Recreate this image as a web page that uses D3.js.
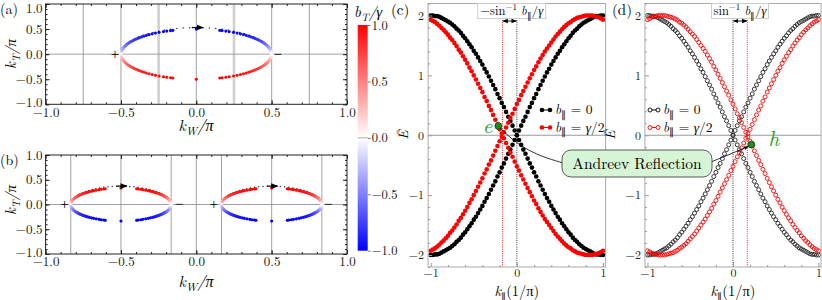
<!DOCTYPE html>
<html><head><meta charset="utf-8">
<script src="https://cdn.jsdelivr.net/npm/d3@7"></script>
<style>body{margin:0;background:#fff} svg{display:block}</style>
</head><body><svg id="chart" width="822" height="300"></svg>
<script>
// ---------------- DATA ----------------
// panel (a): colored points on the two arcs (k_W, k_T, b_T/gamma)
const aKW = [-0.500,-0.500,-0.499,-0.498,-0.496,-0.494,-0.492,-0.489,-0.485,-0.481,-0.477,-0.472,-0.466,-0.460,-0.454,-0.447,-0.439,-0.430,-0.421,-0.411,-0.400,-0.388,-0.376,-0.362,-0.347,-0.331,-0.313,-0.293,-0.271,-0.247,-0.218,-0.196,-0.171,-0.156,0,0.156,0.171,0.196,0.218,0.247,0.271,0.293,0.313,0.331,0.347,0.362,0.376,0.388,0.400,0.411,0.421,0.430,0.439,0.447,0.454,0.460,0.466,0.472,0.477,0.481,0.485,0.489,0.492,0.494,0.496,0.498,0.499,0.500,0.500];
const aUpperKT = [0,0.015,0.03,0.045,0.06,0.075,0.09,0.105,0.12,0.135,0.15,0.165,0.18,0.195,0.21,0.225,0.24,0.255,0.27,0.285,0.30,0.315,0.33,0.345,0.36,0.375,0.39,0.405,0.42,0.435,0.45,0.46,0.47,0.475,0.5,0.475,0.47,0.46,0.45,0.435,0.42,0.405,0.39,0.375,0.36,0.345,0.33,0.315,0.30,0.285,0.27,0.255,0.24,0.225,0.21,0.195,0.18,0.165,0.15,0.135,0.12,0.105,0.09,0.075,0.06,0.045,0.03,0.015,0];
const aLowerKT = [0,-0.015,-0.03,-0.045,-0.06,-0.075,-0.09,-0.105,-0.12,-0.135,-0.15,-0.165,-0.18,-0.195,-0.21,-0.225,-0.24,-0.255,-0.27,-0.285,-0.30,-0.315,-0.33,-0.345,-0.36,-0.375,-0.39,-0.405,-0.42,-0.435,-0.45,-0.46,-0.47,-0.475,-0.5,-0.475,-0.47,-0.46,-0.45,-0.435,-0.42,-0.405,-0.39,-0.375,-0.36,-0.345,-0.33,-0.315,-0.30,-0.285,-0.27,-0.255,-0.24,-0.225,-0.21,-0.195,-0.18,-0.165,-0.15,-0.135,-0.12,-0.105,-0.09,-0.075,-0.06,-0.045,-0.03,-0.015,0];
const aUpperBT = [0,-0.047,-0.094,-0.141,-0.187,-0.233,-0.279,-0.324,-0.368,-0.412,-0.454,-0.495,-0.536,-0.575,-0.613,-0.649,-0.685,-0.718,-0.750,-0.780,-0.809,-0.836,-0.861,-0.884,-0.905,-0.924,-0.941,-0.956,-0.969,-0.979,-0.988,-0.992,-0.996,-0.997,-1,-0.997,-0.996,-0.992,-0.988,-0.979,-0.969,-0.956,-0.941,-0.924,-0.905,-0.884,-0.861,-0.836,-0.809,-0.780,-0.750,-0.718,-0.685,-0.649,-0.613,-0.575,-0.536,-0.495,-0.454,-0.412,-0.368,-0.324,-0.279,-0.233,-0.187,-0.141,-0.094,-0.047,0];
const aLowerBT = [0,0.047,0.094,0.141,0.187,0.233,0.279,0.324,0.368,0.412,0.454,0.495,0.536,0.575,0.613,0.649,0.685,0.718,0.750,0.780,0.809,0.836,0.861,0.884,0.905,0.924,0.941,0.956,0.969,0.979,0.988,0.992,0.996,0.997,1,0.997,0.996,0.992,0.988,0.979,0.969,0.956,0.941,0.924,0.905,0.884,0.861,0.836,0.809,0.780,0.750,0.718,0.685,0.649,0.613,0.575,0.536,0.495,0.454,0.412,0.368,0.324,0.279,0.233,0.187,0.141,0.094,0.047,0];
// panel (a): black trace along the upper arc
const aTraceKW = [-0.500,-0.498,-0.492,-0.483,-0.470,-0.453,-0.433,-0.410,-0.383,-0.354,-0.321,-0.287,-0.250,-0.211,-0.171,-0.129,-0.087,-0.044,0,0.044,0.087,0.129,0.171,0.211,0.250,0.287,0.321,0.354,0.383,0.410,0.433,0.453,0.470,0.483,0.492,0.498,0.500];
const aTraceKT = [0,0.046,0.092,0.137,0.181,0.224,0.265,0.304,0.341,0.375,0.406,0.434,0.459,0.480,0.498,0.512,0.522,0.528,0.530,0.528,0.522,0.512,0.498,0.480,0.459,0.434,0.406,0.375,0.341,0.304,0.265,0.224,0.181,0.137,0.092,0.046,0];
// panel (b)
const bLeftKW = [-0.833,-0.833,-0.833,-0.832,-0.831,-0.830,-0.828,-0.826,-0.824,-0.821,-0.818,-0.815,-0.811,-0.807,-0.803,-0.798,-0.792,-0.787,-0.781,-0.774,-0.767,-0.759,-0.750,-0.741,-0.731,-0.720,-0.709,-0.695,-0.681,-0.664,-0.645,-0.631,-0.614,-0.604,-0.500,-0.396,-0.386,-0.369,-0.355,-0.336,-0.319,-0.305,-0.291,-0.280,-0.269,-0.259,-0.250,-0.241,-0.233,-0.226,-0.219,-0.213,-0.208,-0.202,-0.197,-0.193,-0.189,-0.185,-0.182,-0.179,-0.176,-0.174,-0.172,-0.170,-0.169,-0.168,-0.167,-0.167,-0.167];
const bRightKW = [0.167,0.167,0.167,0.168,0.169,0.170,0.172,0.174,0.176,0.179,0.182,0.185,0.189,0.193,0.197,0.202,0.208,0.213,0.219,0.226,0.233,0.241,0.250,0.259,0.269,0.280,0.291,0.305,0.319,0.336,0.355,0.369,0.386,0.396,0.500,0.604,0.614,0.631,0.645,0.664,0.681,0.695,0.709,0.720,0.731,0.741,0.750,0.759,0.767,0.774,0.781,0.787,0.792,0.798,0.803,0.807,0.811,0.815,0.818,0.821,0.824,0.826,0.828,0.830,0.831,0.832,0.833,0.833,0.833];
const bUpperKT = [0,0.01,0.02,0.03,0.04,0.05,0.06,0.07,0.08,0.09,0.10,0.11,0.12,0.13,0.14,0.15,0.16,0.17,0.18,0.19,0.20,0.21,0.22,0.23,0.24,0.25,0.26,0.27,0.28,0.29,0.30,0.307,0.313,0.317,0.333,0.317,0.313,0.307,0.30,0.29,0.28,0.27,0.26,0.25,0.24,0.23,0.22,0.21,0.20,0.19,0.18,0.17,0.16,0.15,0.14,0.13,0.12,0.11,0.10,0.09,0.08,0.07,0.06,0.05,0.04,0.03,0.02,0.01,0];
const bLowerKT = [0,-0.01,-0.02,-0.03,-0.04,-0.05,-0.06,-0.07,-0.08,-0.09,-0.10,-0.11,-0.12,-0.13,-0.14,-0.15,-0.16,-0.17,-0.18,-0.19,-0.20,-0.21,-0.22,-0.23,-0.24,-0.25,-0.26,-0.27,-0.28,-0.29,-0.30,-0.307,-0.313,-0.317,-0.333,-0.317,-0.313,-0.307,-0.30,-0.29,-0.28,-0.27,-0.26,-0.25,-0.24,-0.23,-0.22,-0.21,-0.20,-0.19,-0.18,-0.17,-0.16,-0.15,-0.14,-0.13,-0.12,-0.11,-0.10,-0.09,-0.08,-0.07,-0.06,-0.05,-0.04,-0.03,-0.02,-0.01,0];
const bUpperBT = [0,0.047,0.094,0.141,0.187,0.233,0.279,0.324,0.368,0.412,0.454,0.495,0.536,0.575,0.613,0.649,0.685,0.718,0.750,0.780,0.809,0.836,0.861,0.884,0.905,0.924,0.941,0.956,0.969,0.979,0.988,0.992,0.996,0.997,1,0.997,0.996,0.992,0.988,0.979,0.969,0.956,0.941,0.924,0.905,0.884,0.861,0.836,0.809,0.780,0.750,0.718,0.685,0.649,0.613,0.575,0.536,0.495,0.454,0.412,0.368,0.324,0.279,0.233,0.187,0.141,0.094,0.047,0];
const bLowerBT = [0,-0.047,-0.094,-0.141,-0.187,-0.233,-0.279,-0.324,-0.368,-0.412,-0.454,-0.495,-0.536,-0.575,-0.613,-0.649,-0.685,-0.718,-0.750,-0.780,-0.809,-0.836,-0.861,-0.884,-0.905,-0.924,-0.941,-0.956,-0.969,-0.979,-0.988,-0.992,-0.996,-0.997,-1,-0.997,-0.996,-0.992,-0.988,-0.979,-0.969,-0.956,-0.941,-0.924,-0.905,-0.884,-0.861,-0.836,-0.809,-0.780,-0.750,-0.718,-0.685,-0.649,-0.613,-0.575,-0.536,-0.495,-0.454,-0.412,-0.368,-0.324,-0.279,-0.233,-0.187,-0.141,-0.094,-0.047,0];
const bTraceLeftKW = [-0.833,-0.832,-0.828,-0.822,-0.813,-0.802,-0.788,-0.773,-0.755,-0.735,-0.714,-0.691,-0.667,-0.641,-0.614,-0.586,-0.558,-0.529,-0.500,-0.471,-0.442,-0.414,-0.386,-0.359,-0.333,-0.309,-0.286,-0.265,-0.245,-0.227,-0.212,-0.198,-0.187,-0.178,-0.172,-0.168,-0.167];
const bTraceRightKW = [0.167,0.168,0.172,0.178,0.187,0.198,0.212,0.227,0.245,0.265,0.286,0.309,0.333,0.359,0.386,0.414,0.442,0.471,0.500,0.529,0.558,0.586,0.614,0.641,0.667,0.691,0.714,0.735,0.755,0.773,0.788,0.802,0.813,0.822,0.828,0.832,0.833];
const bTraceKT = [0,0.032,0.064,0.096,0.127,0.156,0.185,0.212,0.238,0.262,0.283,0.303,0.320,0.335,0.348,0.357,0.364,0.369,0.370,0.369,0.364,0.357,0.348,0.335,0.320,0.303,0.283,0.262,0.238,0.212,0.185,0.156,0.127,0.096,0.064,0.032,0];
const gridA = [-0.75,-0.5,-0.25,0,0.25,0.5,0.75];
const gridB = [-0.833,-0.5,-0.167,0,0.167,0.5,0.833];
const signsA = [[-0.54,"+"],[0.54,"−"]];
const signsB = [[-0.875,"+"],[-0.115,"−"],[0.115,"+"],[0.875,"−"]];
const arrowsA = [[-0.03,0.045,0.53]];
const arrowsB = [[-0.53,-0.46,0.372],[0.47,0.54,0.372]];
const arcTicks = [-1,-0.5,0,0.5,1];
const cbTicks = [-1,-0.5,0,0.5,1];

// panels (c),(d): energy bands E(k)
const kVals = [-1,-0.975,-0.95,-0.925,-0.9,-0.875,-0.85,-0.825,-0.8,-0.775,-0.75,-0.725,-0.7,-0.675,-0.65,-0.625,-0.6,-0.575,-0.55,-0.525,-0.5,-0.475,-0.45,-0.425,-0.4,-0.375,-0.35,-0.325,-0.3,-0.275,-0.25,-0.225,-0.2,-0.175,-0.15,-0.125,-0.1,-0.075,-0.05,-0.025,0,0.025,0.05,0.075,0.1,0.125,0.15,0.175,0.2,0.225,0.25,0.275,0.3,0.325,0.35,0.375,0.4,0.425,0.45,0.475,0.5,0.525,0.55,0.575,0.6,0.625,0.65,0.675,0.7,0.725,0.75,0.775,0.8,0.825,0.85,0.875,0.9,0.925,0.95,0.975,1];
const blackUp = [-2.00,-2.00,-1.99,-1.99,-1.98,-1.96,-1.94,-1.92,-1.90,-1.88,-1.85,-1.82,-1.78,-1.75,-1.71,-1.66,-1.62,-1.57,-1.52,-1.47,-1.41,-1.36,-1.30,-1.24,-1.18,-1.11,-1.05,-0.98,-0.91,-0.84,-0.77,-0.69,-0.62,-0.54,-0.47,-0.39,-0.31,-0.24,-0.16,-0.08,0,0.08,0.16,0.24,0.31,0.39,0.47,0.54,0.62,0.69,0.77,0.84,0.91,0.98,1.05,1.11,1.18,1.24,1.30,1.36,1.41,1.47,1.52,1.57,1.62,1.66,1.71,1.75,1.78,1.82,1.85,1.88,1.90,1.92,1.94,1.96,1.98,1.99,1.99,2.00,2.00];
const blackDown = [2.00,2.00,1.99,1.99,1.98,1.96,1.94,1.92,1.90,1.88,1.85,1.82,1.78,1.75,1.71,1.66,1.62,1.57,1.52,1.47,1.41,1.36,1.30,1.24,1.18,1.11,1.05,0.98,0.91,0.84,0.77,0.69,0.62,0.54,0.47,0.39,0.31,0.24,0.16,0.08,0,-0.08,-0.16,-0.24,-0.31,-0.39,-0.47,-0.54,-0.62,-0.69,-0.77,-0.84,-0.91,-0.98,-1.05,-1.11,-1.18,-1.24,-1.30,-1.36,-1.41,-1.47,-1.52,-1.57,-1.62,-1.66,-1.71,-1.75,-1.78,-1.82,-1.85,-1.88,-1.90,-1.92,-1.94,-1.96,-1.98,-1.99,-1.99,-2.00,-2.00];
const redUpC = [-1.93,-1.91,-1.89,-1.86,-1.83,-1.79,-1.76,-1.72,-1.68,-1.63,-1.59,-1.54,-1.49,-1.43,-1.38,-1.32,-1.26,-1.20,-1.13,-1.07,-1.00,-0.93,-0.86,-0.79,-0.72,-0.64,-0.57,-0.49,-0.42,-0.34,-0.26,-0.18,-0.10,-0.03,0.05,0.13,0.21,0.29,0.36,0.44,0.52,0.59,0.67,0.74,0.81,0.88,0.95,1.02,1.09,1.15,1.22,1.28,1.34,1.40,1.45,1.50,1.55,1.60,1.65,1.69,1.73,1.77,1.81,1.84,1.87,1.89,1.92,1.94,1.96,1.97,1.98,1.99,2.00,2.00,2.00,2.00,1.99,1.98,1.97,1.95,1.93];
const redDownC = [1.93,1.91,1.89,1.86,1.83,1.79,1.76,1.72,1.68,1.63,1.59,1.54,1.49,1.43,1.38,1.32,1.26,1.20,1.13,1.07,1.00,0.93,0.86,0.79,0.72,0.64,0.57,0.49,0.42,0.34,0.26,0.18,0.10,0.03,-0.05,-0.13,-0.21,-0.29,-0.36,-0.44,-0.52,-0.59,-0.67,-0.74,-0.81,-0.88,-0.95,-1.02,-1.09,-1.15,-1.22,-1.28,-1.34,-1.40,-1.45,-1.50,-1.55,-1.60,-1.65,-1.69,-1.73,-1.77,-1.81,-1.84,-1.87,-1.89,-1.92,-1.94,-1.96,-1.97,-1.98,-1.99,-2.00,-2.00,-2.00,-2.00,-1.99,-1.98,-1.97,-1.95,-1.93];
const redUpD = [-1.93,-1.95,-1.97,-1.98,-1.99,-2.00,-2.00,-2.00,-2.00,-1.99,-1.98,-1.97,-1.96,-1.94,-1.92,-1.89,-1.87,-1.84,-1.81,-1.77,-1.73,-1.69,-1.65,-1.60,-1.55,-1.50,-1.45,-1.40,-1.34,-1.28,-1.22,-1.15,-1.09,-1.02,-0.95,-0.88,-0.81,-0.74,-0.67,-0.59,-0.52,-0.44,-0.36,-0.29,-0.21,-0.13,-0.05,0.03,0.10,0.18,0.26,0.34,0.42,0.49,0.57,0.64,0.72,0.79,0.86,0.93,1.00,1.07,1.13,1.20,1.26,1.32,1.38,1.43,1.49,1.54,1.59,1.63,1.68,1.72,1.76,1.79,1.83,1.86,1.89,1.91,1.93];
const redDownD = [1.93,1.95,1.97,1.98,1.99,2.00,2.00,2.00,2.00,1.99,1.98,1.97,1.96,1.94,1.92,1.89,1.87,1.84,1.81,1.77,1.73,1.69,1.65,1.60,1.55,1.50,1.45,1.40,1.34,1.28,1.22,1.15,1.09,1.02,0.95,0.88,0.81,0.74,0.67,0.59,0.52,0.44,0.36,0.29,0.21,0.13,0.05,-0.03,-0.10,-0.18,-0.26,-0.34,-0.42,-0.49,-0.57,-0.64,-0.72,-0.79,-0.86,-0.93,-1.00,-1.07,-1.13,-1.20,-1.26,-1.32,-1.38,-1.43,-1.49,-1.54,-1.59,-1.63,-1.68,-1.72,-1.76,-1.79,-1.83,-1.86,-1.89,-1.91,-1.93];
const eTicks = [-2,-1,0,1,2];
const kTicks = [-1,0,1];
const shiftC = -0.167, shiftD = 0.167;
const eDot = [-0.215, 0.155];
const hDot = [0.215, -0.155];
const legendValues = ["0", "γ/2"];

// ---------------- DRAWING ----------------
const FONT = '"Latin Modern Roman","Liberation Serif",serif';
const svg = d3.select("#chart");
const defs = svg.append("defs");
function mkArrow(id, color){
  defs.append("marker").attr("id",id).attr("viewBox","0 0 10 10").attr("refX",9).attr("refY",5)
    .attr("markerWidth",6).attr("markerHeight",6).attr("orient","auto-start-reverse")
    .append("path").attr("d","M0,1 L10,5 L0,9 Z").attr("fill",color);
}
mkArrow("arr","#000");
const col = d3.scaleLinear().domain([-1,0,1]).range(["#0000ff","#ffffff","#ff0000"]).interpolate(d3.interpolateRgb);

function rich(g, x, y, parts, size, opts={}){
  const t = g.append("text").attr("x",x).attr("y",y).style("font-family",FONT)
    .attr("font-size",size).attr("text-anchor",opts.anchor||"start").attr("fill",opts.fill||"#000");
  if (opts.transform) t.attr("transform",opts.transform);
  let cur = 0;
  parts.forEach(p=>{
    const ts = t.append("tspan").text(p.t);
    if (p.i) ts.attr("font-style","italic");
    let s = 0;
    if (p.sub){ s = size*0.28; ts.attr("font-size",size*0.72); }
    if (p.sup){ s = -size*0.38; ts.attr("font-size",size*0.72); }
    if (s!==cur){ ts.attr("dy", s-cur); cur = s; }
  });
  return t;
}
function styleAxis(sel, color, tcol, fs){
  sel.attr("font-family",null);
  sel.select(".domain").remove();
  sel.selectAll("line").attr("stroke",color);
  sel.selectAll("text").style("font-family",FONT).attr("font-size",fs||13).attr("fill",tcol);
}

// ---- panels (a),(b)
function arcPanel(yRange, grid, wideGrid, arcs, traces, arrows, signs){
  const x = d3.scaleLinear([-1,1],[45.6,347]);
  const y = d3.scaleLinear([-1,1],yRange);
  const g = svg.append("g");
  grid.forEach(v=>{
    const wide = wideGrid && Math.abs(v)===0.25;
    g.append("line").attr("x1",x(v)).attr("x2",x(v)).attr("y1",y(-1)).attr("y2",y(1))
      .attr("stroke", wide? "#d0d0d0":"#8a8a8a").attr("stroke-width", wide?2.6:0.8);
  });
  g.append("line").attr("x1",x(-1)).attr("x2",x(1)).attr("y1",y(0)).attr("y2",y(0)).attr("stroke","#8a8a8a").attr("stroke-width",0.8);
  traces.forEach(([kw,kt])=>{
    g.append("g").selectAll("circle").data(kw.map((v,i)=>[v,kt[i]])).join("circle")
      .attr("cx",d=>x(d[0])).attr("cy",d=>y(d[1])).attr("r",0.75).attr("fill","#333");
  });
  arcs.forEach(([kw,kt,bt])=>{
    g.append("g").selectAll("circle").data(kw.map((v,i)=>[v,kt[i],bt[i]])).join("circle")
      .attr("cx",d=>x(d[0])).attr("cy",d=>y(d[1])).attr("r",1.55).attr("fill",d=>col(d[2]));
  });
  arrows.forEach(([a,b,kt])=>{
    g.append("line").attr("x1",x(a)).attr("x2",x(b)).attr("y1",y(kt)).attr("y2",y(kt))
      .attr("stroke","#000").attr("stroke-width",1.2).attr("marker-end","url(#arr)");
  });
  signs.forEach(([kw,s])=>{
    g.append("text").attr("x",x(kw)).attr("y",y(0)).attr("dy","0.33em").attr("text-anchor","middle")
      .style("font-family",'"Liberation Serif",serif').attr("font-size",15).attr("fill","#000").text(s);
  });
  g.append("rect").attr("x",x(-1)).attr("y",y(1)).attr("width",x(1)-x(-1)).attr("height",y(-1)-y(1))
    .attr("fill","none").attr("stroke","#222").attr("stroke-width",1);
  const minor = d3.range(-1,1.0001,0.1);
  const fmt = d3.format(".1f");
  const ax = [
    [d3.axisBottom(x).tickValues(arcTicks).tickSize(-4).tickPadding(3).tickFormat(fmt), `translate(0,${y(-1)})`],
    [d3.axisBottom(x).tickValues(minor).tickSize(-2).tickFormat(""), `translate(0,${y(-1)})`],
    [d3.axisTop(x).tickValues(arcTicks).tickSize(-4).tickFormat(""), `translate(0,${y(1)})`],
    [d3.axisTop(x).tickValues(minor).tickSize(-2).tickFormat(""), `translate(0,${y(1)})`],
    [d3.axisLeft(y).tickValues(arcTicks).tickSize(-4).tickPadding(3).tickFormat(fmt), `translate(${x(-1)},0)`],
    [d3.axisLeft(y).tickValues(minor).tickSize(-2).tickFormat(""), `translate(${x(-1)},0)`],
    [d3.axisRight(y).tickValues(arcTicks).tickSize(-4).tickFormat(""), `translate(${x(1)},0)`],
    [d3.axisRight(y).tickValues(minor).tickSize(-2).tickFormat(""), `translate(${x(1)},0)`]
  ];
  ax.forEach(([a,t],i)=> {
    const s = g.append("g").attr("transform",t).call(a).call(s=>styleAxis(s,"#222","#111"));
    if (i===4) {
      s.selectAll(".tick").filter(d=>d===1 && y(1)<8).select("text").attr("y",4.5);
      s.selectAll(".tick").filter(d=>d===-1).select("text").attr("y",-1.5);
    }
  });
  return {g,x,y};
}

const pA = arcPanel([104.3,4], gridA, true,
  [[aKW,aUpperKT,aUpperBT],[aKW,aLowerKT,aLowerBT]],
  [[aTraceKW,aTraceKT]], arrowsA, signsA);
const pB = arcPanel([254,155], gridB, false,
  [[bLeftKW,bUpperKT,bUpperBT],[bLeftKW,bLowerKT,bLowerBT],[bRightKW,bUpperKT,bUpperBT],[bRightKW,bLowerKT,bLowerBT]],
  [[bTraceLeftKW,bTraceKT],[bTraceRightKW,bTraceKT]], arrowsB, signsB);

// axis titles (a),(b)
const kwParts = [{t:"k",i:1},{t:"W",i:1,sub:1},{t:"/π",i:1}];
const ktParts = [{t:"k",i:1},{t:"T",i:1,sub:1},{t:"/π",i:1}];
rich(svg, 196, 131, kwParts, 16, {anchor:"middle"});
rich(svg, 196, 287, kwParts, 16, {anchor:"middle"});
rich(svg, 0, 0, ktParts, 15, {anchor:"middle", transform:"translate(16,54) rotate(-90)"});
rich(svg, 0, 0, ktParts, 15, {anchor:"middle", transform:"translate(16,200) rotate(-90)"});
svg.append("text").attr("x",0).attr("y",13.5).style("font-family",FONT).attr("font-size",14).text("(a)");
svg.append("text").attr("x",0).attr("y",165).style("font-family",FONT).attr("font-size",14).text("(b)");

// ---- colorbar
{
  const cy = d3.scaleLinear([-1,1],[250.7,25]);
  const grad = defs.append("linearGradient").attr("id","cb").attr("x1",0).attr("x2",0).attr("y1",1).attr("y2",0);
  d3.range(-1,1.0001,0.25).forEach(v=> grad.append("stop").attr("offset",(v+1)/2).attr("stop-color",col(v)));
  svg.append("rect").attr("x",357.7).attr("y",cy(1)).attr("width",10).attr("height",cy(-1)-cy(1)).attr("fill","url(#cb)");
  const a = svg.append("g").attr("transform","translate(367.7,0)")
    .call(d3.axisRight(cy).tickValues(cbTicks).tickSize(3).tickPadding(1).tickFormat(d3.format(".1f")));
  styleAxis(a,"#777","#111",12.5);
  svg.append("line").attr("x1",357.7).attr("x2",367.7).attr("y1",cy(0)).attr("y2",cy(0)).attr("stroke","#999").attr("stroke-width",0.8);
  rich(svg, 354, 16.5, [{t:"b",i:1},{t:"T",i:1,sub:1},{t:"/γ",i:1}], 15);
}

// ---- panels (c),(d)
function bandPanel(xRange, shift, curves, open, dot, boxParts, boxX, legendX, panelLabel, labelX, eLabelX){
  const x = d3.scaleLinear([-1,1],xRange);
  const y = d3.scaleLinear([-2,2],[255,15.5]);
  const g = svg.append("g");
  const x0 = x(-1.03), x1 = x(1.03), y0 = y(2.2), y1 = y(-2.2);
  g.append("line").attr("x1",x0).attr("x2",x1).attr("y1",y(0)).attr("y2",y(0)).attr("stroke","#999").attr("stroke-width",1);
  g.append("line").attr("x1",x(0)).attr("x2",x(0)).attr("y1",20).attr("y2",y1).attr("stroke","#222").attr("stroke-width",0.9).attr("stroke-dasharray","1,1.2");
  g.append("line").attr("x1",x(shift)).attr("x2",x(shift)).attr("y1",20).attr("y2",y1).attr("stroke","#f00").attr("stroke-width",0.9).attr("stroke-dasharray","1,1.2");
  curves.forEach(([vals,color])=>{
    const c = g.append("g").selectAll("circle").data(kVals.map((k,i)=>[k,vals[i]])).join("circle")
      .attr("cx",d=>x(d[0])).attr("cy",d=>y(d[1]));
    if (open) c.attr("r",2).attr("fill","none").attr("stroke",color).attr("stroke-width",0.9);
    else c.attr("r",2.3).attr("fill",color);
  });
  g.append("rect").attr("x",x0).attr("y",y0).attr("width",x1-x0).attr("height",y1-y0).attr("fill","none").attr("stroke","#aaa").attr("stroke-width",1);
  const minorE = [-2.2,-1.8,-1.6,-1.4,-1.2,-0.8,-0.6,-0.4,-0.2,0.2,0.4,0.6,0.8,1.2,1.4,1.6,1.8,2.2];
  const minorK = [-0.8,-0.6,-0.4,-0.2,0.2,0.4,0.6,0.8];
  const ax = [
    [d3.axisBottom(x).tickValues(kTicks).tickSize(-4).tickPadding(1.5).tickFormat(d3.format("d")), `translate(0,${y1})`],
    [d3.axisBottom(x).tickValues(minorK).tickSize(-2).tickFormat(""), `translate(0,${y1})`],
    [d3.axisLeft(y).tickValues(eTicks).tickSize(-4).tickPadding(4).tickFormat(d3.format("d")), `translate(${x0},0)`],
    [d3.axisLeft(y).tickValues(minorE).tickSize(-2).tickFormat(""), `translate(${x0},0)`]
  ];
  ax.forEach(([a,t])=> g.append("g").attr("transform",t).call(a).call(s=>styleAxis(s,"#999","#222",12)));
  const bw = boxParts.w;
  g.append("rect").attr("x",boxX).attr("y",y0).attr("width",bw).attr("height",15).attr("fill","#fff").attr("stroke","#ccc").attr("stroke-width",1);
  rich(g, boxX+bw/2, y0+11.5, boxParts.parts, 12.5, {anchor:"middle"});
  g.append("line").attr("x1",x(Math.min(0,shift))+0.5).attr("x2",x(Math.max(0,shift))-0.5).attr("y1",21).attr("y2",21)
    .attr("stroke","#000").attr("stroke-width",0.9).attr("marker-start","url(#arr)").attr("marker-end","url(#arr)");
  const lc = [["#000",0],["#f00",1]];
  lc.forEach(([c,i])=>{
    const ly = 110 + i*17.5;
    g.append("line").attr("x1",legendX).attr("x2",legendX+8).attr("y1",ly).attr("y2",ly).attr("stroke",c).attr("stroke-width",1);
    [legendX, legendX+8].forEach(cx=>{
      const cc = g.append("circle").attr("cx",cx).attr("cy",ly);
      if (open) cc.attr("r",2).attr("fill","#fff").attr("stroke",c).attr("stroke-width",0.9);
      else cc.attr("r",2.3).attr("fill",c);
    });
    const vparts = legendValues[i]==="0" ? [{t:" = 0"}] : [{t:" = "},{t:"γ",i:1},{t:"/2"}];
    rich(g, legendX+13, ly+4, [{t:"b",i:1},{t:"∥",sub:1}].concat(vparts), 13.5);
  });
  g.append("circle").attr("cx",x(dot[0])).attr("cy",y(dot[1])).attr("r",3.4).attr("fill","#1f8a1f").attr("stroke","#0b3d0b").attr("stroke-width",0.8);
  rich(g, 0, 0, [{t:"Ē",i:1}], 14, {anchor:"middle", transform:`translate(${eLabelX},135) rotate(-90)`});
  rich(g, x(0), 296, [{t:"k",i:1},{t:"∥",sub:1},{t:"(1/π)"}], 14.5, {anchor:"middle"});
  g.append("text").attr("x",labelX).attr("y",15).style("font-family",FONT).attr("font-size",15).text(panelLabel);
  return {g,x,y};
}

const pC = bandPanel([430.7,603], shiftC,
  [[blackUp,"#000"],[blackDown,"#000"],[redUpC,"#f00"],[redDownC,"#f00"]], false, eDot,
  {w:68, parts:[{t:"−sin"},{t:"−1",sup:1},{t:" "},{t:"b",i:1},{t:"∥",sub:1},{t:"/"},{t:"γ",i:1}]}, 477.7, 542, "(c)", 391, 408);
const pD = bandPanel([647.5,818.5], shiftD,
  [[blackUp,"#222"],[blackDown,"#222"],[redUpD,"#f00"],[redDownD,"#f00"]], true, hDot,
  {w:57, parts:[{t:"sin"},{t:"−1",sup:1},{t:" "},{t:"b",i:1},{t:"∥",sub:1},{t:"/"},{t:"γ",i:1}]}, 711.5, 650, "(d)", 612, 615);

svg.append("text").attr("x",pC.x(eDot[0])-6).attr("y",pC.y(eDot[1])+7).attr("text-anchor","end")
  .style("font-family",FONT).attr("font-style","italic").attr("font-size",21).attr("fill","#2a9a2a").text("e");
svg.append("text").attr("x",pD.x(hDot[0])+17).attr("y",pD.y(hDot[1])+1).attr("text-anchor","start")
  .style("font-family",FONT).attr("font-style","italic").attr("font-size",21).attr("fill","#2a9a2a").text("h");

svg.append("path").attr("d",`M563,163 C543,157 522,151 ${pC.x(eDot[0])+2},${pC.y(eDot[1])+2}`)
  .attr("fill","none").attr("stroke","#000").attr("stroke-width",0.8);
svg.append("path").attr("d",`M711,162 L${pD.x(hDot[0])-3},${pD.y(hDot[1])+2}`)
  .attr("fill","none").attr("stroke","#000").attr("stroke-width",0.8).attr("marker-end","url(#arr)");
svg.append("rect").attr("x",562).attr("y",150).attr("width",150).attr("height",27).attr("rx",9)
  .attr("fill","#d6f4d6").attr("stroke","#333").attr("stroke-width",0.8);
svg.append("text").attr("x",637).attr("y",168.5).attr("text-anchor","middle").style("font-family",FONT)
  .attr("font-size",15.5).text("Andreev Reflection");
</script></body></html>
